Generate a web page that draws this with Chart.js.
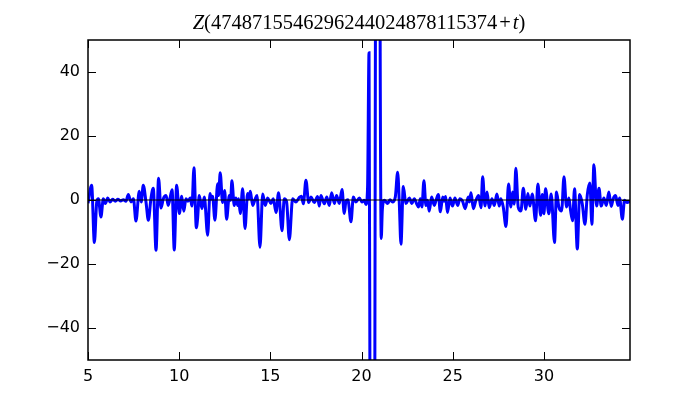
<!DOCTYPE html>
<html><head><meta charset="utf-8">
<script src="https://cdn.jsdelivr.net/npm/chart.js@4"></script>
<style>
html,body{margin:0;padding:0;background:#fff;}
#wrap{position:relative;width:700px;height:400px;}
#title{position:absolute;left:88px;width:542px;top:11px;text-align:center;font-family:"Liberation Serif","DejaVu Serif",serif;font-size:20.5px;color:#000;white-space:nowrap;}
</style></head><body>
<div id="wrap"><canvas id="c" width="700" height="400" style="width:700px;height:400px"></canvas><div id="title"><i>Z</i>(4748715546296244024878115374<span style="margin:0 2px">+</span><i>t</i>)</div></div>
<script>
const titleText = "Z(4748715546296244024878115374+t)";
const xTicks = [5, 10, 15, 20, 25, 30];
const yTicks = [-40, -20, 0, 20, 40];
const xRange = [5, 34.72];
const yRange = [-50, 50];

const tVals = [
 5.00,5.20,5.35,5.48,5.57,5.71,5.84,5.95,6.08,6.21,6.35,6.50,6.64,6.79,6.94,7.08,7.21,7.36,7.49,7.63,
 7.81,7.92,8.03,8.18,8.31,8.45,8.58,8.73,8.87,9.00,9.13,9.28,9.40,9.61,9.73,9.86,10.01,10.14,10.25,10.37,
 10.48,10.61,10.70,10.81,10.94,11.01,11.10,11.25,11.38,11.56,11.69,11.76,11.83,11.96,12.11,12.16,12.25,12.38,12.49,12.60,
 12.75,12.82,12.89,13.02,13.11,13.21,13.26,13.35,13.48,13.61,13.75,13.83,13.90,14.03,14.16,14.27,14.43,14.58,14.72,14.85,
 15.03,15.16,15.31,15.45,15.64,15.76,15.89,16.04,16.22,16.40,16.59,16.70,16.81,16.95,17.10,17.23,17.41,17.59,17.68,17.77,
 17.96,18.09,18.23,18.36,18.51,18.63,18.78,18.93,19.05,19.14,19.25,19.42,19.55,19.69,19.88,20.02,20.15,20.24,20.33,20.41,
 20.46,20.52,20.60,20.68,20.73,20.76,20.82,20.90,20.97,21.02,21.08,21.14,21.25,21.43,21.56,21.70,21.85,21.98,22.07,22.16,
 22.29,22.43,22.62,22.76,22.89,23.04,23.13,23.22,23.31,23.42,23.53,23.62,23.71,23.84,23.99,24.10,24.21,24.32,24.45,24.52,
 24.61,24.71,24.85,24.99,25.12,25.27,25.39,25.54,25.68,25.85,25.92,26.00,26.13,26.27,26.42,26.55,26.64,26.77,26.88,27.00,
 27.15,27.28,27.42,27.55,27.64,27.77,27.92,28.06,28.19,28.28,28.37,28.46,28.59,28.74,28.87,29.01,29.12,29.23,29.36,29.54,
 29.67,29.82,29.91,30.00,30.09,30.27,30.40,30.58,30.69,30.82,30.97,31.10,31.24,31.37,31.46,31.57,31.68,31.83,31.96,32.10,
 32.25,32.38,32.52,32.63,32.74,32.89,33.02,33.14,33.29,33.42,33.56,33.69,33.80,33.93,34.06,34.15,34.30,34.42,34.57,34.72
];
const zVals = [
 -1.0,4.6,-13.3,-0.6,0.4,-5.3,0.4,-1.1,0.6,-0.6,0.2,-0.4,0.2,-0.3,0.1,-0.4,1.7,-0.6,0.4,-6.6,
 2.7,-0.6,4.6,-0.6,-6.3,0.4,3.7,-15.7,6.8,-2.5,0.4,1.4,-1.7,3.2,-15.6,4.6,-4.2,1.2,-3.5,0.4,
 -0.4,0.6,-1.9,10.1,-8.7,-5.8,1.4,-2.7,0.9,-11.0,2.0,0.3,1.2,-6.3,5.1,1.4,8.5,-0.8,3.0,-6.0,
 1.4,-0.1,6.0,-1.7,0.6,-1.7,0.4,-4.2,3.5,-8.9,2.0,0.4,2.7,-1.7,0.2,1.4,-14.8,1.9,-1.7,0.6,
 -1.1,0.4,-3.9,2.3,-9.6,0.4,-0.6,-12.4,0.4,-0.6,0.8,1.2,-1.2,6.2,-0.8,0.9,-0.8,1.1,-1.9,1.4,
 -1.2,0.9,-1.7,2.3,-1.1,1.4,-1.1,3.3,-4.2,-0.6,0.1,-6.8,0.9,-0.6,0.6,-0.6,-0.1,-1.4,4.0,46.0,
 -60,-250,-350,-250,-50,50,250,300,200,50,-12.0,-3.0,-0.1,-1.1,0.1,-0.6,0.9,8.7,-1.1,-13.8,
 4.2,-1.1,0.6,-1.1,0.4,-1.4,-2.2,0.4,-2.2,6.0,-1.7,-0.1,-3.5,0.9,-1.7,0.2,1.7,-3.7,0.9,-0.4,
 1.1,-3.9,0.6,-1.9,0.6,-1.7,0.4,-0.4,-2.7,0.9,-0.6,2.3,-2.7,-0.1,1.4,-2.4,7.3,-1.9,2.5,-2.4,
 0.4,-1.7,1.9,-1.9,0.4,-2.2,-8.3,5.0,-2.2,2.5,-1.3,9.9,-2.2,-3.4,3.7,-2.9,2.0,-1.9,1.9,-6.5,
 5.0,-4.8,1.7,-4.3,3.5,-4.3,1.9,-13.3,2.5,-2.2,-3.4,7.3,-2.2,0.6,-3.2,-6.5,3.5,-15.3,1.7,-1.1,
 -7.6,1.7,5.3,-7.6,11.0,-1.9,3.7,-1.9,0.6,-1.7,2.5,-2.0,0.4,1.4,-1.7,0.6,-6.0,-0.1,-0.8,-0.4
];

const fmt = v => (v < 0 ? '\u2212' + Math.abs(v) : String(v));

const frameTicks = {
  id: 'frameTicks',
  afterDraw(chart) {
    const ctx = chart.ctx, a = chart.chartArea;
    const xs = chart.scales.x, ys = chart.scales.y;
    const L = 8;
    ctx.save();
    ctx.strokeStyle = '#000';
    ctx.lineWidth = 1;
    ctx.beginPath();
    xTicks.forEach(v => {
      const p = Math.round(xs.getPixelForValue(v)) + 0.5;
      ctx.moveTo(p, a.bottom); ctx.lineTo(p, a.bottom - L);
      ctx.moveTo(p, a.top); ctx.lineTo(p, a.top + L);
    });
    yTicks.forEach(v => {
      const p = Math.round(ys.getPixelForValue(v)) + 0.5;
      ctx.moveTo(a.left, p); ctx.lineTo(a.left + L, p);
      ctx.moveTo(a.right, p); ctx.lineTo(a.right - L, p);
    });
    ctx.stroke();
    ctx.lineWidth = 1.5;
    ctx.strokeRect(a.left, a.top, a.right - a.left, a.bottom - a.top);
    ctx.restore();
  }
};

new Chart(document.getElementById('c'), {
  type: 'line',
  data: {
    datasets: [
      {
        data: tVals.map((t, i) => ({ x: t, y: zVals[i] })),
        borderColor: '#0000ff',
        borderWidth: 3,
        pointRadius: 0,
        cubicInterpolationMode: 'monotone',
        order: 2
      },
      {
        data: [{ x: xRange[0], y: 0 }, { x: xRange[1], y: 0 }],
        borderColor: '#000000',
        borderWidth: 1,
        pointRadius: 0,
        order: 1
      }
    ]
  },
  options: {
    responsive: false,
    animation: false,
    layout: { padding: { left: 0, right: 70, top: 40, bottom: 0 } },
    plugins: { legend: { display: false }, tooltip: { enabled: false }, title: { display: false } },
    scales: {
      x: {
        type: 'linear', min: xRange[0], max: xRange[1],
        afterBuildTicks: s => { s.ticks = xTicks.map(v => ({ value: v })); },
        afterFit: s => { s.height = 40; },
        grid: { display: false, drawTicks: false },
        border: { display: false },
        ticks: { color: '#000', padding: 7, maxRotation: 0, font: { family: 'DejaVu Sans', size: 16 }, callback: v => fmt(v) }
      },
      y: {
        type: 'linear', min: yRange[0], max: yRange[1],
        afterBuildTicks: s => { s.ticks = yTicks.map(v => ({ value: v })); },
        afterFit: s => { s.width = 88; },
        grid: { display: false, drawTicks: false },
        border: { display: false },
        ticks: { color: '#000', padding: 8, font: { family: 'DejaVu Sans', size: 16 }, callback: v => fmt(v) }
      }
    }
  },
  plugins: [frameTicks]
});
</script>
</body></html>
